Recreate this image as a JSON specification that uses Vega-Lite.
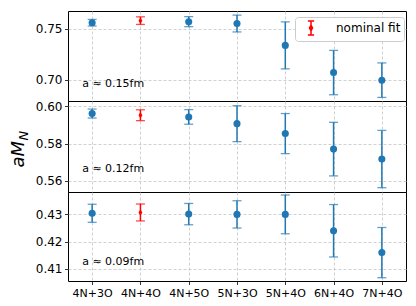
{
  "$schema": "https://vega.github.io/schema/vega-lite/v6.json",
  "padding": {"left": 8, "top": 10, "right": 5, "bottom": 5},
  "background": "white",
  "datasets": {
    "pts": [
      {"panel": "a015", "cfg": "4N+3O", "v": 0.7558, "lo": 0.7526, "hi": 0.7590, "fit": "other"},
      {"panel": "a015", "cfg": "4N+4O", "v": 0.7578, "lo": 0.7541, "hi": 0.7615, "fit": "nominal fit"},
      {"panel": "a015", "cfg": "4N+5O", "v": 0.7568, "lo": 0.7519, "hi": 0.7617, "fit": "other"},
      {"panel": "a015", "cfg": "5N+3O", "v": 0.7550, "lo": 0.7468, "hi": 0.7632, "fit": "other"},
      {"panel": "a015", "cfg": "5N+4O", "v": 0.7337, "lo": 0.7108, "hi": 0.7566, "fit": "other"},
      {"panel": "a015", "cfg": "6N+4O", "v": 0.7072, "lo": 0.6856, "hi": 0.7288, "fit": "other"},
      {"panel": "a015", "cfg": "7N+4O", "v": 0.6998, "lo": 0.6830, "hi": 0.7166, "fit": "other"},
      {"panel": "a012", "cfg": "4N+3O", "v": 0.5960, "lo": 0.5936, "hi": 0.5984, "fit": "other"},
      {"panel": "a012", "cfg": "4N+4O", "v": 0.5951, "lo": 0.5922, "hi": 0.5980, "fit": "nominal fit"},
      {"panel": "a012", "cfg": "4N+5O", "v": 0.5942, "lo": 0.5903, "hi": 0.5981, "fit": "other"},
      {"panel": "a012", "cfg": "5N+3O", "v": 0.5906, "lo": 0.5810, "hi": 0.6002, "fit": "other"},
      {"panel": "a012", "cfg": "5N+4O", "v": 0.5853, "lo": 0.5746, "hi": 0.5960, "fit": "other"},
      {"panel": "a012", "cfg": "6N+4O", "v": 0.5770, "lo": 0.5627, "hi": 0.5913, "fit": "other"},
      {"panel": "a012", "cfg": "7N+4O", "v": 0.5717, "lo": 0.5564, "hi": 0.5870, "fit": "other"},
      {"panel": "a009", "cfg": "4N+3O", "v": 0.4304, "lo": 0.4271, "hi": 0.4337, "fit": "other"},
      {"panel": "a009", "cfg": "4N+4O", "v": 0.4307, "lo": 0.4276, "hi": 0.4338, "fit": "nominal fit"},
      {"panel": "a009", "cfg": "4N+5O", "v": 0.4301, "lo": 0.4262, "hi": 0.4340, "fit": "other"},
      {"panel": "a009", "cfg": "5N+3O", "v": 0.4300, "lo": 0.4250, "hi": 0.4350, "fit": "other"},
      {"panel": "a009", "cfg": "5N+4O", "v": 0.4300, "lo": 0.4229, "hi": 0.4371, "fit": "other"},
      {"panel": "a009", "cfg": "6N+4O", "v": 0.4240, "lo": 0.4144, "hi": 0.4336, "fit": "other"},
      {"panel": "a009", "cfg": "7N+4O", "v": 0.4160, "lo": 0.4068, "hi": 0.4252, "fit": "other"}
    ],
    "ann": [
      {"panel": "a015", "cfg": "4N+3O", "y": 0.6962, "label": "a ≈ 0.15fm"},
      {"panel": "a012", "cfg": "4N+3O", "y": 0.5665, "label": "a ≈ 0.12fm"},
      {"panel": "a009", "cfg": "4N+3O", "y": 0.4125, "label": "a ≈ 0.09fm"}
    ]
  },
  "config": {
    "view": {"stroke": "black", "strokeWidth": 1},
    "font": "DejaVu Sans",
    "axis": {
      "domain": false,
      "grid": true,
      "gridColor": "#c4c4c4",
      "gridDash": [3, 2],
      "gridWidth": 0.8,
      "tickColor": "black",
      "tickSize": 3.5,
      "tickWidth": 0.8,
      "labelColor": "black",
      "labelFont": "DejaVu Sans",
      "titleFont": "DejaVu Sans",
      "titleColor": "black"
    },
    "axisY": {"labelFontSize": 12, "labelPadding": 2.5, "minExtent": 0},
    "axisX": {"labelFontSize": 11, "labelPadding": 3, "labelAngle": 0, "minExtent": 0}
  },
  "spacing": 0,
  "bounds": "flush",
  "resolve": {"scale": {"color": "independent"}, "legend": {"color": "independent"}},
  "vconcat": [
    {
      "width": 338, "height": 90,
      "data": {"name": "pts"},
      "transform": [{"filter": "datum.panel == 'a015'"}],
      "encoding": {
        "x": {"field": "cfg", "type": "nominal", "sort": null, "title": null,
              "scale": {"type": "point", "padding": 0.5},
              "axis": {"labels": false, "ticks": false, "title": null}},
        "color": {"field": "fit", "type": "nominal",
                  "scale": {"domain": ["nominal fit", "other"], "range": ["red", "#1f77b4"]},
                  "legend": {"values": ["nominal fit"], "title": null, "orient": "none",
                             "legendX": 227, "legendY": 6,
                             "fillColor": "white", "strokeColor": "#cccccc", "cornerRadius": 3,
                             "padding": 3, "symbolOffset": 5,
                             "labelFontSize": 12, "labelFont": "DejaVu Sans", "labelColor": "black", "labelOffset": 17,
                             "symbolType": "M-0.45,-1L0.45,-1M0,-1L0,1M-0.45,1L0.45,1M0,-0.4L0.22,0L0,0.4L-0.22,0Z",
                             "symbolSize": 196,
                             "symbolStrokeWidth": 1.5,
                             "symbolFillColor": "red",
                             "symbolStrokeColor": "red",
                             "encode": {"symbols": {"update": {
                               "stroke": {"value": "red"}, "fill": {"value": "red"}, "strokeWidth": {"value": 1.5}, "opacity": {"value": 1}}}}}}
      },
      "layer": [
        {"mark": {"type": "rule", "strokeWidth": 1.5},
         "encoding": {"y": {"field": "lo", "type": "quantitative", "title": null,
                            "scale": {"domain": [0.6795, 0.7672], "nice": false, "zero": false},
                            "axis": {"values": [0.70, 0.75], "format": ".2f", "title": null}},
                      "y2": {"field": "hi"}}},
        {"mark": {"type": "tick", "size": 9, "thickness": 1.3},
         "encoding": {"y": {"field": "lo", "type": "quantitative"}}},
        {"mark": {"type": "tick", "size": 9, "thickness": 1.3},
         "encoding": {"y": {"field": "hi", "type": "quantitative"}}},
        {"transform": [{"filter": "datum.fit == 'other'"}],
         "mark": {"type": "point", "filled": true, "opacity": 1, "size": 50, "shape": "circle"},
         "encoding": {"y": {"field": "v", "type": "quantitative"}}},
        {"transform": [{"filter": "datum.fit == 'nominal fit'"}],
         "mark": {"type": "point", "filled": true, "opacity": 1, "size": 40, "shape": "M0,-1L0.6,0L0,1L-0.6,0Z"},
         "encoding": {"y": {"field": "v", "type": "quantitative"}}},
        {"data": {"name": "ann"},
         "transform": [{"filter": "datum.panel == 'a015'"}],
         "mark": {"type": "text", "align": "left", "baseline": "middle", "dx": -10, "fontSize": 11, "color": "black", "font": "DejaVu Sans"},
         "encoding": {"y": {"field": "y", "type": "quantitative"}, "text": {"field": "label"}, "color": {"value": "black"}}}
      ]
    },
    {
      "width": 338, "height": 91,
      "data": {"name": "pts"},
      "transform": [{"filter": "datum.panel == 'a012'"}],
      "encoding": {
        "x": {"field": "cfg", "type": "nominal", "sort": null, "title": null,
              "scale": {"type": "point", "padding": 0.5},
              "axis": {"labels": false, "ticks": false, "title": null}},
        "color": {"field": "fit", "type": "nominal",
                  "scale": {"domain": ["nominal fit", "other"], "range": ["red", "#1f77b4"]},
                  "legend": null}
      },
      "resolve": {"axis": {"y": "independent"}},
      "layer": [
        {
          "layer": [
            {"mark": {"type": "rule", "strokeWidth": 1.5},
             "encoding": {"y": {"field": "lo", "type": "quantitative",
                                "scale": {"domain": [0.5541, 0.6027], "nice": false, "zero": false},
                                "axis": {"values": [0.56, 0.58, 0.60], "format": ".2f",
                                         "title": "aM", "titleFontSize": 18, "titleFontStyle": "italic", "titleFontWeight": "normal",
                                         "titleAngle": 270, "titleAlign": "left", "titleBaseline": "alphabetic",
                                         "titleX": -45, "titleY": 66}},
                          "y2": {"field": "hi"}}},
            {"mark": {"type": "tick", "size": 9, "thickness": 1.3},
             "encoding": {"y": {"field": "lo", "type": "quantitative"}}},
            {"mark": {"type": "tick", "size": 9, "thickness": 1.3},
             "encoding": {"y": {"field": "hi", "type": "quantitative"}}},
            {"transform": [{"filter": "datum.fit == 'other'"}],
             "mark": {"type": "point", "filled": true, "opacity": 1, "size": 50, "shape": "circle"},
             "encoding": {"y": {"field": "v", "type": "quantitative"}}},
            {"transform": [{"filter": "datum.fit == 'nominal fit'"}],
             "mark": {"type": "point", "filled": true, "opacity": 1, "size": 40, "shape": "M0,-1L0.6,0L0,1L-0.6,0Z"},
             "encoding": {"y": {"field": "v", "type": "quantitative"}}}
          ]
        },
        {"data": {"name": "ann"},
         "transform": [{"filter": "datum.panel == 'a012'"}],
         "mark": {"type": "text", "align": "left", "baseline": "middle", "dx": -10, "fontSize": 11, "color": "black", "font": "DejaVu Sans"},
         "encoding": {"y": {"field": "y", "type": "quantitative",
                            "scale": {"domain": [0.5541, 0.6027], "nice": false, "zero": false},
                            "axis": {"orient": "left", "labels": false, "ticks": false, "grid": false, "domain": false,
                                     "title": "N", "titleFontSize": 13, "titleFontStyle": "italic", "titleFontWeight": "normal",
                                     "titleAngle": 270, "titleAlign": "left", "titleBaseline": "alphabetic",
                                     "titleX": -41, "titleY": 39}},
                      "text": {"field": "label"}, "color": {"value": "black"}}}
      ]
    },
    {
      "width": 338, "height": 89,
      "data": {"name": "pts"},
      "transform": [{"filter": "datum.panel == 'a009'"}],
      "encoding": {
        "x": {"field": "cfg", "type": "nominal", "sort": null, "title": null,
              "scale": {"type": "point", "padding": 0.5},
              "axis": {"title": null}},
        "color": {"field": "fit", "type": "nominal",
                  "scale": {"domain": ["nominal fit", "other"], "range": ["red", "#1f77b4"]},
                  "legend": null}
      },
      "layer": [
        {"mark": {"type": "rule", "strokeWidth": 1.5},
         "encoding": {"y": {"field": "lo", "type": "quantitative",
                            "scale": {"domain": [0.4056, 0.4382], "nice": false, "zero": false},
                            "axis": {"values": [0.41, 0.42, 0.43], "format": ".2f", "title": null}},
                      "y2": {"field": "hi"}}},
        {"mark": {"type": "tick", "size": 9, "thickness": 1.3},
         "encoding": {"y": {"field": "lo", "type": "quantitative"}}},
        {"mark": {"type": "tick", "size": 9, "thickness": 1.3},
         "encoding": {"y": {"field": "hi", "type": "quantitative"}}},
        {"transform": [{"filter": "datum.fit == 'other'"}],
         "mark": {"type": "point", "filled": true, "opacity": 1, "size": 50, "shape": "circle"},
         "encoding": {"y": {"field": "v", "type": "quantitative"}}},
        {"transform": [{"filter": "datum.fit == 'nominal fit'"}],
         "mark": {"type": "point", "filled": true, "opacity": 1, "size": 40, "shape": "M0,-1L0.6,0L0,1L-0.6,0Z"},
         "encoding": {"y": {"field": "v", "type": "quantitative"}}},
        {"data": {"name": "ann"},
         "transform": [{"filter": "datum.panel == 'a009'"}],
         "mark": {"type": "text", "align": "left", "baseline": "middle", "dx": -10, "fontSize": 11, "color": "black", "font": "DejaVu Sans"},
         "encoding": {"y": {"field": "y", "type": "quantitative"}, "text": {"field": "label"}, "color": {"value": "black"}}}
      ]
    }
  ]
}
